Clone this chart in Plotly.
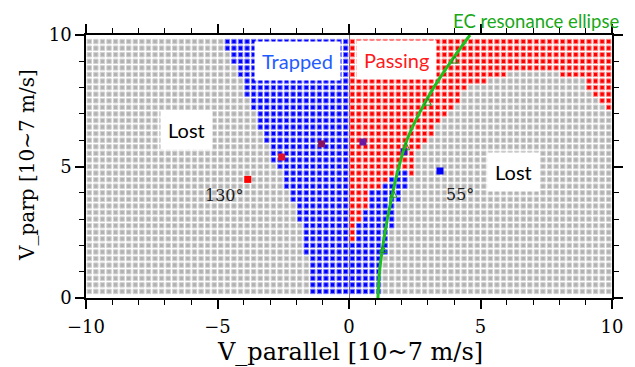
import numpy as np
import plotly.graph_objects as go

# ---------------- data ----------------
# velocity grid (cell centres), units of 10^7 m/s
V_PAR_CELLS = np.arange(-9.875, 10.0, 0.25)      # 80 columns
V_PERP_CELLS = np.arange(0.25, 9.80, 0.25)       # 39 rows (bottom -> top)

# first "trapped" column on the left side of each row (bottom -> top)
TRAPPED_LEFT_COL = [34, 34, 34, 34, 34, 34, 33, 33, 33, 33, 33, 32, 32, 32, 31, 31,
                    30, 30, 30, 29, 28, 28, 28, 27, 27, 26, 26, 26, 25, 25, 24, 24,
                    24, 23, 23, 22, 22, 21, 21]

# run-length classes for columns 40..79 (v_par > 0), bottom -> top
# B = trapped, R = passing, G = lost
RIGHT_RUNS = [
    "B5 G35", "B5 G35", "B5 G35", "B5 G35", "B5 G35", "B5 G35",
    "B6 G34", "B6 G34",
    "R1 B5 G34", "R1 B5 G34",
    "R1 B6 G33",
    "R2 B5 G33", "R2 B5 G33",
    "R3 B4 G33",
    "R3 B5 G32", "R3 B5 G32",
    "R5 B4 G31",
    "R6 B3 G31",
    "R7 B2 R1 G30",
    "R10 G30", "R10 G30", "R10 G30",
    "R11 G29", "R12 G28", "R13 G27", "R13 G27", "R14 G26", "R15 G25",
    "R16 G23 R1", "R17 G21 R2", "R17 G20 R3", "R18 G18 R4", "R21 G15 R4",
    "R24 G8 R8",
    "R40", "R40", "R40", "R40", "R40",
]

# EC resonance ellipse
EC_VPERP = [0, 1, 2, 3, 4, 5, 6, 7, 8, 9, 10]
EC_VPAR = [1.10, 1.16, 1.29, 1.46, 1.66, 1.90, 2.20, 2.66, 3.22, 3.88, 4.60]
EC_ARROW_VPERP = [2.0, 4.1, 5.9, 7.6, 9.2]

# highlighted particles
PT_VPAR = [-3.85, -2.56, -1.04, 0.53, 2.09, 3.46]
PT_VPERP = [4.51, 5.36, 5.86, 5.93, 5.56, 4.83]
PT_COLOR = ["#ff0000", "#e0102a", "#8a1060", "#6a1aa0", "#3512c8", "#0000ff"]

# ---------------- build classes ----------------
cls_x = {"G": [], "B": [], "R": []}
cls_y = {"G": [], "B": [], "R": []}
for r, vy in enumerate(V_PERP_CELLS):
    row = ["G"] * 80
    for c in range(TRAPPED_LEFT_COL[r], 40):
        row[c] = "B"
    c = 40
    for run in RIGHT_RUNS[r].split():
        k, n = run[0], int(run[1:])
        for _ in range(n):
            row[c] = k
            c += 1
    for c, k in enumerate(row):
        cls_x[k].append(V_PAR_CELLS[c])
        cls_y[k].append(vy)

STYLE = {"G": ("#b2b2b2", "#d2d2d2"), "B": ("#0000ff", "#7a7aff"), "R": ("#ff0000", "#ff8a8a")}

fig = go.Figure()
for k in ["G", "B", "R"]:
    core, edge = STYLE[k]
    fig.add_trace(go.Scatter(
        x=cls_x[k], y=cls_y[k], mode="markers",
        marker=dict(symbol="square", size=4.4, color=core, line=dict(color=edge, width=1)),
        hoverinfo="skip", showlegend=False))

fig.add_trace(go.Scatter(
    x=PT_VPAR, y=PT_VPERP, mode="markers",
    marker=dict(symbol="square", size=7, color=PT_COLOR),
    showlegend=False, hoverinfo="skip"))

fig.add_trace(go.Scatter(
    x=EC_VPAR, y=EC_VPERP, mode="lines", line=dict(color="#1ec01e", width=3, shape="spline"),
    showlegend=False, hoverinfo="skip", cliponaxis=False))
fig.add_trace(go.Scatter(
    x=np.interp(EC_ARROW_VPERP, EC_VPERP, EC_VPAR), y=EC_ARROW_VPERP, mode="markers",
    marker=dict(symbol="arrow-up-open", size=7, color="#1a9a1a", line=dict(width=1)),
    showlegend=False, hoverinfo="skip"))

serif = "DejaVu Serif"
sans = "Lato"
axis_common = dict(
    showline=True, linecolor="black", linewidth=1.5, mirror="ticks",
    ticks="outside", ticklen=9, tickwidth=1.5, tickcolor="black",
    showgrid=False, tickfont=dict(family=serif, size=18, color="black"),
    minor=dict(dtick=1, ticks="outside", ticklen=5, tickwidth=1, tickcolor="black"),
)
fig.update_xaxes(range=[-10, 10], dtick=5, tick0=0, zeroline=True, ticklabelstandoff=3,
                 zerolinecolor="#777777", zerolinewidth=1, **axis_common)
fig.update_yaxes(range=[0, 10], dtick=5, tick0=0, zeroline=False, **axis_common)

ann = []
def box(text, x, y, color, size=20):
    ann.append(dict(x=x, y=y, xref="x", yref="y", text=text, showarrow=False,
                    xanchor="center", yanchor="middle",
                    font=dict(family=sans, size=size, color=color),
                    bgcolor="white", borderpad=7))

box("Trapped", -1.94, 9.01, "#1f5cff")
box("Passing", 1.79, 9.05, "#ff1a1a")
box("Lost", -6.16, 6.39, "black")
box("Lost", 6.24, 4.78, "black")
ann.append(dict(x=-4.75, y=3.88, xref="x", yref="y", text="130°", showarrow=False,
                xanchor="center", yanchor="middle",
                font=dict(family=serif, size=16, color="#222")))
ann.append(dict(x=4.22, y=3.92, xref="x", yref="y", text="55°", showarrow=False,
                xanchor="center", yanchor="middle",
                font=dict(family=serif, size=16, color="#222")))
ann.append(dict(x=0.502, y=-0.205, xref="paper", yref="paper", text="V_parallel [10~7 m/s]",
                xanchor="center", yanchor="middle",
                showarrow=False, font=dict(family=serif, size=24, color="black")))
ann.append(dict(x=-0.112, y=0.506, xref="paper", yref="paper", text="V_parp [10~7 m/s]",
                xanchor="center", yanchor="middle",
                showarrow=False, textangle=-90, font=dict(family=serif, size=20, color="black")))
ann.append(dict(x=0.856, y=1.053, xref="paper", yref="paper", text="EC resonance ellipse",
                xanchor="center", yanchor="middle",
                showarrow=False, font=dict(family=sans, size=18.5, color="#18a818")))

fig.update_layout(
    width=635, height=367, margin=dict(l=86, r=23, t=35, b=69, autoexpand=False),
    plot_bgcolor="white", paper_bgcolor="white", annotations=ann, showlegend=False)

fig.write_html("out.html", config={"displayModeBar": False},
               post_script="document.body.style.margin='0px';")
